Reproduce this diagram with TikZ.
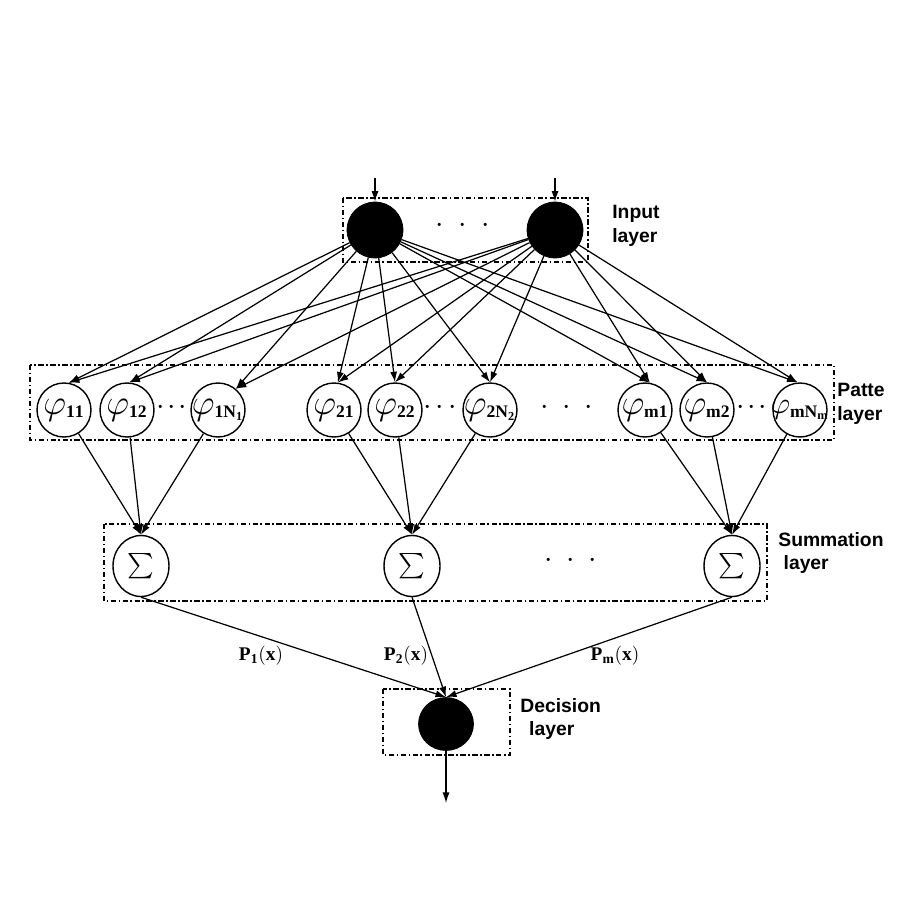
\documentclass[tikz,border=0pt]{standalone}
\usepackage{amsmath}
\usepackage{fontspec}
\setmainfont{Liberation Serif}
\setsansfont{Liberation Sans}
\usepackage{tikz}
\usetikzlibrary{shapes}
\usetikzlibrary{arrows.meta}
\usetikzlibrary{positioning}

\newcommand{\tdots}[1]{\makebox[#1]{$\cdot$}\makebox[#1]{$\cdot$}\makebox[#1]{$\cdot$}}
\newcommand{\phisub}[2]{\scalebox{#1}{$\varphi$}$_{\mathbf{#2}}$}

\tikzset{
  inputnode/.style={circle,fill=black,draw=black,minimum size=1.12cm,inner sep=0pt},
  pattnode/.style={circle,draw=black,line width=0.8pt,minimum size=1.08cm,inner sep=-3pt,font=\Large},
  sumnode/.style={ellipse,draw=black,line width=0.8pt,minimum width=1.12cm,minimum height=1.22cm,inner sep=0pt,font=\Large},
  decnode/.style={ellipse,fill=black,draw=black,minimum width=1.1cm,minimum height=1.06cm,inner sep=0pt},
  layerbox/.style={draw,line width=0.6pt,dash pattern=on 3pt off 1.5pt on 0.8pt off 1.5pt},
  layertext/.style={font=\sffamily\bfseries\fontsize{11}{13.5}\selectfont,align=left,inner sep=0pt,anchor=west},
  link/.style={-{Latex[length=6pt,width=4pt]},line width=0.7pt},
  dotsnode/.style={inner sep=0pt,font=\LARGE},
  problabel/.style={inner sep=0pt,font=\fontsize{11}{13}\selectfont}
}

\begin{document}
\begin{tikzpicture}[x=0.02cm,y=-0.02cm]
  \useasboundingbox (0,0) rectangle (912,912);

  % layer boxes
  \draw[layerbox] (343,198) rectangle (588,262);
  \draw[layerbox] (30,365) rectangle (834,440);
  \draw[layerbox] (104,524) rectangle (767,601);
  \draw[layerbox] (383,689) rectangle (510,755);

  % input layer
  \node[inputnode] (in1) at (375,230) {};
  \node[inputnode] (in2) at (555,230) {};
  \node[dotsnode] (indots) at (463,226) {\tdots{13pt}};
  \coordinate (x1) at (375,178);
  \coordinate (x2) at (555,178);
  \draw[link] (x1) -- (in1);
  \draw[link] (x2) -- (in2);
  \node[layertext] (inlab) at (612,226) {Input\\layer};

  % pattern layer
  \foreach \nm/\xx/\sc/\lab in {p11/64/1.4/{11},p12/127/1.4/{12},p1n/218/1.4/{1N_1},
                                p21/334/1.4/{21},p22/395/1.4/{22},p2n/490/1.4/{2N_2},
                                pm1/645/1.4/{m1},pm2/707/1.4/{m2},pmn/800/1.2/{mN_m}}
    \node[pattnode] (\nm) at (\xx,410) {\phisub{\sc}{\lab}};
  \node[dotsnode] (pdots1) at (172,408) {\tdots{6.2pt}};
  \node[dotsnode] (pdots2) at (440,408) {\tdots{7pt}};
  \node[dotsnode] (pdots3) at (567,408) {\tdots{12.5pt}};
  \node[dotsnode] (pdots4) at (752,408) {\tdots{6.4pt}};
  \node[layertext] (pattlab) at (837,404) {Patte\\layer};

  % summation layer
  \node[sumnode] (s1) at (141,566) {$\sum$};
  \node[sumnode] (s2) at (412,566) {$\sum$};
  \node[sumnode] (s3) at (732,566) {$\sum$};
  \node[dotsnode] (sdots) at (571,561) {\tdots{12.5pt}};
  \node[layertext] (sumlab) at (778,553) {Summation\\\hspace{3pt}layer};

  % decision layer
  \node[decnode] (dec) at (446,724) {};
  \coordinate (y) at (446,803);
  \node[layertext] (declab) at (520,719) {Decision\\\hspace{5pt}layer};

  % connections
  \foreach \i in {in1,in2}
    \foreach \p/\a in {p11/80,p12/85,p1n/50,p21/82,p22/90,p2n/90,pm1/80,pm2/90,pmn/95}
      \draw[link] (\i) -- (\p.\a);
  \foreach \p in {p11,p12,p1n}
    \draw[link] (\p) -- (s1.north);
  \foreach \p in {p21,p22,p2n}
    \draw[link] (\p) -- (s2.north);
  \foreach \p in {pm1,pm2,pmn}
    \draw[link] (\p) -- (s3.north);
  \foreach \s in {s1,s2,s3}
    \draw[link] (\s.south) -- (dec.north);
  \draw[link] (dec) -- (y);

  \node[problabel] (pr1) at (261,656) {$\mathbf{P_1(x)}$};
  \node[problabel] (pr2) at (406,656) {$\mathbf{P_2(x)}$};
  \node[problabel] (prm) at (615,656) {$\mathbf{P_m(x)}$};
\end{tikzpicture}
\end{document}
